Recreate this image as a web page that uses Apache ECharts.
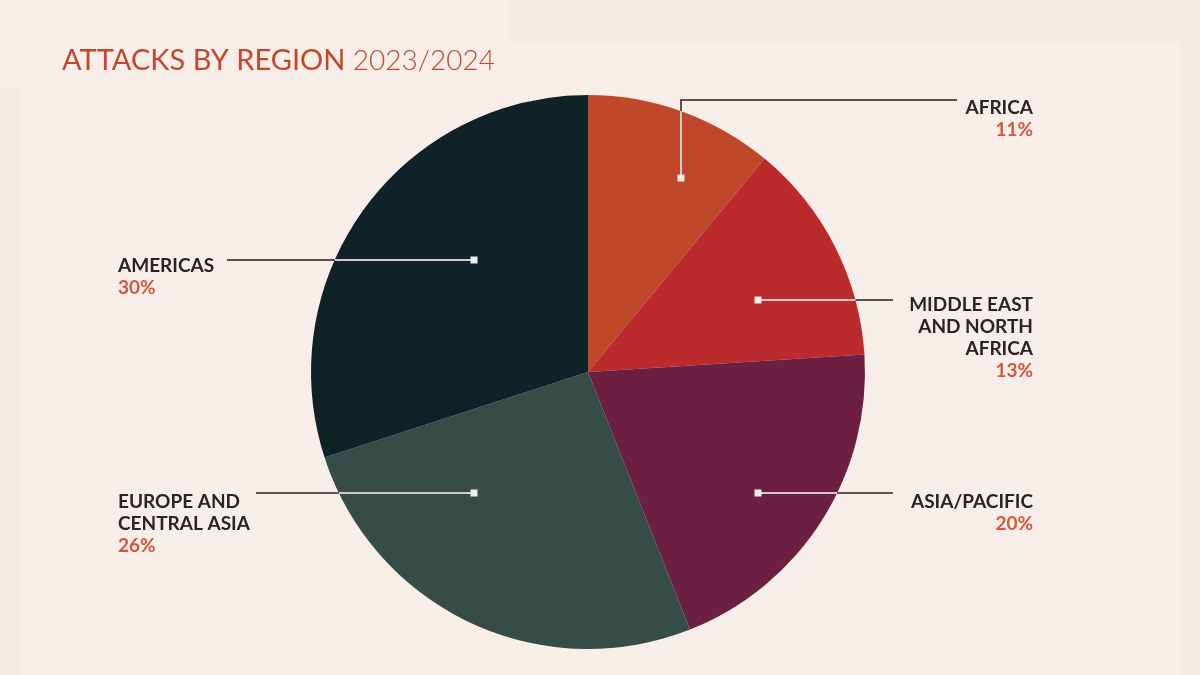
<!DOCTYPE html>
<html>
<head>
<meta charset="utf-8">
<script src="https://cdn.jsdelivr.net/npm/echarts@6/dist/echarts.min.js"></script>
<style>
html,body{margin:0;padding:0;background:#f8eee9;}
#chart{width:1200px;height:675px;}
</style>
</head>
<body>
<div id="chart"></div>
<script>
// ---- data ----
const categories = ['AFRICA', 'MIDDLE EAST\nAND NORTH\nAFRICA', 'ASIA/PACIFIC', 'EUROPE AND\nCENTRAL ASIA', 'AMERICAS'];
const shares = [11, 13, 20, 26, 30];
const sliceColors = ['#c0482a', '#bb2a2c', '#6c1f41', '#354c47', '#0f2228'];

// ---- layout ----
const CX = 588, CY = 372, R = 277;
const anchors = [[681, 178], [758, 300], [758, 493], [474, 493], [474, 260]];
const labelPos = [
  {x: 1033, y: 97, align: 'right', line: [[681, 178], [681, 100], [957, 100]]},
  {x: 1033, y: 294, align: 'right', line: [[758, 300], [826, 300], [893, 300]]},
  {x: 1033, y: 491, align: 'right', line: [[758, 493], [826, 493], [893, 493]]},
  {x: 118, y: 491, align: 'left', line: [[474, 493], [365, 493], [256, 493]]},
  {x: 118, y: 255, align: 'left', line: [[474, 260], [350, 260], [227, 260]]}
];
function edgePoint(i) {
  const a = anchors[i];
  if (i === 0) {
    const dy = Math.sqrt(R * R - (a[0] - CX) * (a[0] - CX));
    return [a[0], CY - dy];
  }
  const dir = labelPos[i].align === 'right' ? 1 : -1;
  const dx = Math.sqrt(R * R - (a[1] - CY) * (a[1] - CY));
  return [CX + dir * dx, a[1]];
}

const FONT = 'Lato';
const FS = 19;
const chart = echarts.init(document.getElementById('chart'));
const data = categories.map((c, i) => ({name: c, value: shares[i], itemStyle: {color: sliceColors[i]}}));

chart.setOption({
  backgroundColor: '#f8eee9',
  animation: false,
  graphic: [
    {type: 'rect', shape: {x: 510, y: 0, width: 690, height: 42}, style: {fill: '#f4ebe6'}, z: -10},
    {type: 'rect', shape: {x: 0, y: 88, width: 20, height: 587}, style: {fill: '#f3eae5'}, z: -10},
    {type: 'rect', shape: {x: 1180, y: 42, width: 20, height: 633}, style: {fill: '#f4ebe6'}, z: -10},
    {
      type: 'text', left: 62, top: 46, z: 10,
      style: {
        text: '{a|ATTACKS BY REGION }{b|2023/2024}',
        rich: {
          a: {fontFamily: FONT, fontSize: 29, fontWeight: 400, fill: '#c4472b'},
          b: {fontFamily: FONT, fontSize: 28, fontWeight: 300, fill: '#c4472b'}
        }
      }
    }
  ],
  series: [
    {
      type: 'pie',
      center: [CX, CY],
      radius: [0, R],
      startAngle: 90,
      clockwise: true,
      avoidLabelOverlap: false,
      silent: true,
      data: data,
      label: {
        show: true,
        position: 'outside',
        formatter: p => {
          const side = labelPos[p.dataIndex].align === 'right' ? 'R' : 'L';
          return '{n' + side + '|' + p.name + '}\n{p' + side + '|' + p.value + '%}';
        },
        rich: {
          nR: {fontFamily: FONT, fontSize: FS, fontWeight: 'bold', color: '#2b2228', lineHeight: 22, align: 'right'},
          pR: {fontFamily: FONT, fontSize: FS, fontWeight: 'bold', color: '#d2583d', lineHeight: 22, align: 'right'},
          nL: {fontFamily: FONT, fontSize: FS, fontWeight: 'bold', color: '#2b2228', lineHeight: 22, align: 'left'},
          pL: {fontFamily: FONT, fontSize: FS, fontWeight: 'bold', color: '#d2583d', lineHeight: 22, align: 'left'}
        }
      },
      labelLine: {show: true, lineStyle: {color: '#55524f', width: 2}},
      labelLayout: p => {
        const L = labelPos[p.dataIndex];
        return {x: L.x, y: L.y, align: L.align, verticalAlign: 'top', labelLinePoints: L.line};
      }
    },
    {
      type: 'pie',
      center: [CX, CY],
      radius: [0, R],
      startAngle: 90,
      clockwise: true,
      avoidLabelOverlap: false,
      silent: true,
      z: 5,
      data: categories.map((c, i) => ({name: c, value: shares[i]})),
      itemStyle: {color: 'rgba(0,0,0,0)'},
      label: {
        show: true,
        position: 'outside',
        formatter: () => ' ',
        fontSize: 1,
        width: 7,
        height: 7,
        padding: 0,
        backgroundColor: '#f1ece9'
      },
      labelLine: {show: true, lineStyle: {color: '#cfcaca', width: 2}},
      labelLayout: p => {
        const a = anchors[p.dataIndex];
        const e = edgePoint(p.dataIndex);
        return {x: a[0], y: a[1], align: 'center', verticalAlign: 'middle',
          labelLinePoints: [a, [(a[0] + e[0]) / 2, (a[1] + e[1]) / 2], e]};
      }
    }
  ]
});
</script>
</body>
</html>
